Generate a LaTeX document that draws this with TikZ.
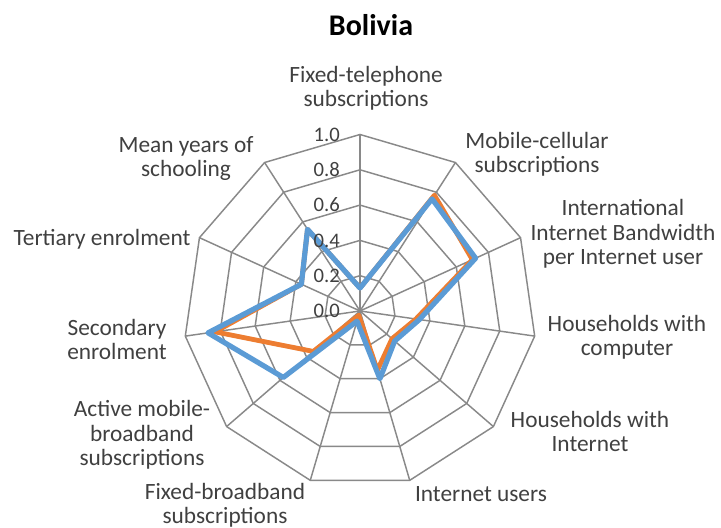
\documentclass[tikz,border=0pt]{standalone}
\usepackage{fontspec}
\setmainfont{Carlito}
\usepackage{tikz}
\usetikzlibrary{positioning}
\definecolor{gridgray}{HTML}{898989}
\definecolor{labelgray}{HTML}{404040}
\definecolor{seriesblue}{HTML}{5B9BD5}
\definecolor{seriesorange}{HTML}{ED7D31}

\begin{document}
\begin{tikzpicture}[x=0.75pt,y=0.75pt,
    axislabel/.style={text=labelgray,font=\fontsize{17.5}{18.2}\selectfont,align=center,inner sep=0pt},
    ticklabel/.style={text=labelgray,font=\fontsize{15.5}{18}\selectfont,anchor=east,inner sep=0pt},
    gridline/.style={draw=gridgray,line width=1.1pt},
    series/.style={line width=3.6pt,line join=round}]
    \useasboundingbox (0,0) rectangle (721,528);

    % centre of the web
    \coordinate (c) at (360,217);

    \begin{scope}[shift={(c)},x=132.375pt,y=132.375pt]
        % rings
        \foreach \r in {0.2,0.4,0.6,0.8,1.0}
            \draw[gridline] (90:\r) \foreach \i in {1,...,10} { -- ({90-\i*360/11}:\r) } -- cycle;
        % spokes
        \foreach \i in {0,...,10}
            \draw[gridline] (0,0) -- ({90-\i*360/11}:1);

        % series 1
        \draw[series,seriesorange] (90:0.13) -- ({90-360/11}:0.78) -- ({90-2*360/11}:0.70)
            -- ({90-3*360/11}:0.32) -- ({90-4*360/11}:0.24) -- ({90-5*360/11}:0.35)
            -- ({90-6*360/11}:0.025) -- ({90-7*360/11}:0.35) -- ({90-8*360/11}:0.83)
            -- ({90-9*360/11}:0.365) -- ({90-10*360/11}:0.55) -- cycle;
        % series 2
        \draw[series,seriesblue,line width=3.9pt] (90:0.13) -- ({90-360/11}:0.755) -- ({90-2*360/11}:0.72)
            -- ({90-3*360/11}:0.34) -- ({90-4*360/11}:0.26) -- ({90-5*360/11}:0.40)
            -- ({90-6*360/11}:0.06) -- ({90-7*360/11}:0.575) -- ({90-8*360/11}:0.87)
            -- ({90-9*360/11}:0.365) -- ({90-10*360/11}:0.55) -- cycle;
    \end{scope}

    % scale
    \node[ticklabel] (tick0) at ([shift={(-20,0)}]c) {0.0};
    \node[ticklabel] (tick2) at ([shift={(-20,35.3)}]c) {0.2};
    \node[ticklabel] (tick4) at ([shift={(-20,70.6)}]c) {0.4};
    \node[ticklabel] (tick6) at ([shift={(-20,105.9)}]c) {0.6};
    \node[ticklabel] (tick8) at ([shift={(-20,141.2)}]c) {0.8};
    \node[ticklabel] (tick10) at ([shift={(-20,176.5)}]c) {1.0};

    % title
    \node[font=\fontsize{22.5}{26}\selectfont\bfseries] (title) at (371,503) {Bolivia};

    % axis labels
    \node[axislabel] (fixtel) at (366,440) {Fixed-telephone\\subscriptions};
    \node[axislabel] (mobcel) at (537,373.5) {Mobile-cellular\\subscriptions};
    \node[axislabel] (intbw) at (623,294) {International\\Internet Bandwidth\\per Internet user};
    \node[axislabel] (hhcomp) at (627,191) {Households with\\computer};
    \node[axislabel] (hhint) at (590,96.5) {Households with\\Internet};
    \node[axislabel] (netusr) at (481,34) {Internet users};
    \node[axislabel] (fixbb) at (225,22.5) {Fixed-broadband\\subscriptions};
    \node[axislabel] (actmob) at (142,93) {Active mobile-\\broadband\\subscriptions};
    \node[axislabel] (secenr) at (117,188.5) {Secondary\\enrolment};
    \node[axislabel] (terenr) at (102,289) {Tertiary enrolment};
    \node[axislabel] (meanyrs) at (186,369.5) {Mean years of\\schooling};
\end{tikzpicture}
\end{document}
